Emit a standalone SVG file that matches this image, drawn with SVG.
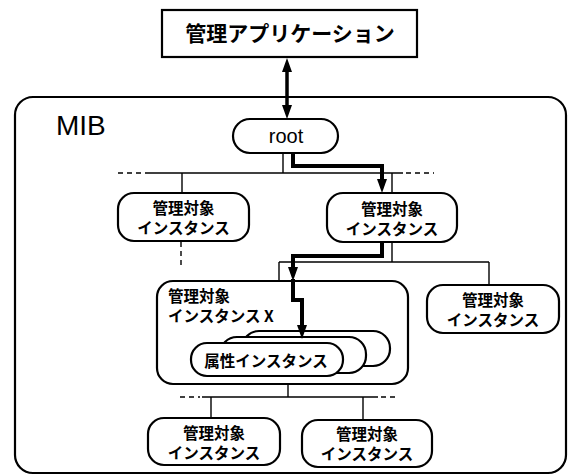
<svg xmlns="http://www.w3.org/2000/svg" width="570" height="475" viewBox="0 0 570 475">
<defs>
<style>
.box{fill:#fff;stroke:#000;stroke-width:2.2}
.t{font-family:"Noto Sans CJK JP","Liberation Sans",sans-serif;font-weight:bold;font-size:15.5px;text-anchor:middle;fill:#000}
.s{text-anchor:start}
.thin{fill:none;stroke:#000;stroke-width:1.4}
.dash{fill:none;stroke:#000;stroke-width:1.4;stroke-dasharray:5,4}
.thick{fill:none;stroke:#000;stroke-width:4}
.head{fill:#000}
</style>
</defs>
<rect width="570" height="475" fill="#fff"/>

<g id="mib">
<rect x="15" y="97" width="551" height="376" rx="18" class="box" stroke-width="2.6"/>
<text x="56" y="135" font-family="Liberation Sans, Arial, sans-serif" font-size="28" fill="#000">MIB</text>
</g>

<g id="app">
<rect x="162" y="10" width="255" height="47" class="box" stroke-width="2.6"/>
<text x="290" y="41" class="t" style="font-size:21px">管理アプリケーション</text>
</g>

<g id="n-root">
<rect x="233" y="119" width="105" height="34" rx="17" class="box"/>
<text x="286" y="143" font-family="Liberation Sans, Arial, sans-serif" font-size="20" text-anchor="middle" fill="#000">root</text>
</g>

<g id="n-left1">
<rect x="118" y="193" width="131" height="48" rx="16" class="box"/>
<text class="t"><tspan x="183.5" y="214">管理対象</tspan><tspan x="183.5" y="234">インスタンス</tspan></text>
</g>

<g id="n-right1">
<rect x="327" y="193" width="130" height="49" rx="16" class="box"/>
<text class="t"><tspan x="392" y="215">管理対象</tspan><tspan x="392" y="235">インスタンス</tspan></text>
</g>

<g id="n-x">
<rect x="157" y="281" width="251" height="103" rx="16" class="box"/>
<text class="t s"><tspan x="168" y="302">管理対象</tspan><tspan x="168" y="322">インスタンス X</tspan></text>
</g>

<g id="n-attr">
<rect x="242" y="331" width="148" height="35" rx="17" class="box"/>
<rect x="220" y="337" width="146" height="36" rx="17" class="box"/>
<rect x="191" y="343" width="152" height="33" rx="16" class="box"/>
<text x="266" y="367" class="t">属性インスタンス</text>
</g>

<g id="n-right2">
<rect x="427" y="285" width="132" height="48" rx="16" class="box"/>
<text class="t"><tspan x="493" y="306">管理対象</tspan><tspan x="493" y="326">インスタンス</tspan></text>
</g>

<g id="n-bl">
<rect x="148" y="418" width="132" height="47" rx="16" class="box"/>
<text class="t"><tspan x="214" y="439">管理対象</tspan><tspan x="214" y="459">インスタンス</tspan></text>
</g>

<g id="n-br">
<rect x="302" y="420" width="130" height="47" rx="16" class="box"/>
<text class="t"><tspan x="367" y="440">管理対象</tspan><tspan x="367" y="460">インスタンス</tspan></text>
</g>

<g id="connectors">
<line x1="287" y1="70" x2="287" y2="106" stroke="#000" stroke-width="3.5"/>
<path d="M287,58 l-5,14 h10 Z M287,119 l-5,-14 h10 Z" class="head"/>

<!-- level 1 tree -->
<line x1="283" y1="153" x2="283" y2="173" class="thin"/>
<line x1="147" y1="173" x2="403" y2="173" class="thin"/>
<line x1="118" y1="173" x2="147" y2="173" class="dash"/>
<line x1="406" y1="173" x2="434" y2="173" class="dash"/>
<line x1="182" y1="173" x2="182" y2="193" class="thin"/>
<line x1="392" y1="173" x2="392" y2="193" class="thin"/>
<line x1="181" y1="242" x2="181" y2="266" class="dash" stroke-dasharray="4,3"/>

<!-- level 2 tree -->
<line x1="392" y1="243" x2="392" y2="262" class="thin"/>
<line x1="279" y1="262" x2="489" y2="262" class="thin"/>
<line x1="279" y1="262" x2="279" y2="281" class="thin"/>
<line x1="489" y1="262" x2="489" y2="285" class="thin"/>

<!-- level 3 tree -->
<line x1="288" y1="385" x2="288" y2="397" class="thin"/>
<line x1="202" y1="397" x2="378" y2="397" class="thin"/>
<line x1="180" y1="397" x2="200" y2="397" class="dash"/>
<line x1="381" y1="397" x2="398" y2="397" class="dash"/>
<line x1="211" y1="397" x2="211" y2="418" class="thin"/>
<line x1="363" y1="397" x2="363" y2="420" class="thin"/>

<!-- access path -->
<path d="M293,154 V166 H382 V180" class="thick"/>
<path d="M382,193 l-5,-14 h10 Z" class="head"/>
<path d="M382,243 V256 H293 V268" class="thick"/>
<path d="M293,281 l-5,-14 h10 Z" class="head"/>
<path d="M293,279 V300 H302 V326" class="thick"/>
<path d="M302,339 l-5,-14 h10 Z" class="head"/>
</g>
</svg>
